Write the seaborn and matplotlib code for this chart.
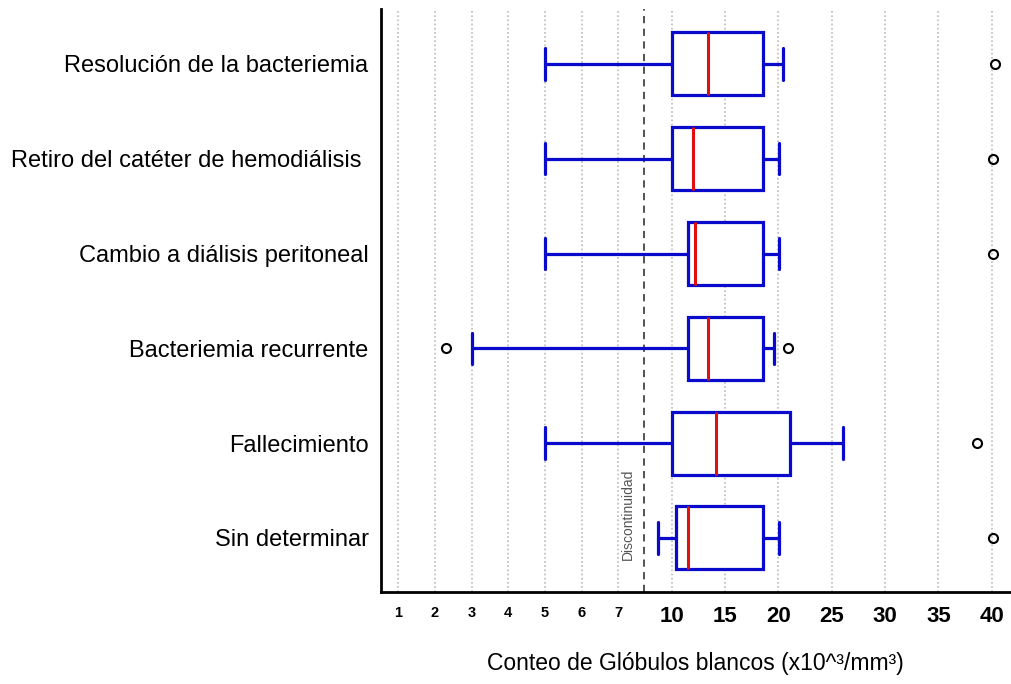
import numpy as np
import pandas as pd
import matplotlib
matplotlib.use("Agg")
import matplotlib.pyplot as plt
import seaborn as sns

categories = ["Resolución de la bacteriemia", "Retiro del catéter de hemodiálisis ",
              "Cambio a diálisis peritoneal", "Bacteriemia recurrente",
              "Fallecimiento", "Sin determinar"]
whisker_low = [5.0, 5.0, 5.0, 3.0, 5.0, 8.7]
q1 = [10.0, 10.0, 11.5, 11.5, 10.0, 10.4]
median = [13.4, 12.0, 12.2, 13.4, 14.2, 11.5]
q3 = [18.6, 18.6, 18.6, 18.6, 21.1, 18.6]
whisker_high = [20.4, 20.1, 20.1, 19.6, 26.1, 20.1]
outlier_low = [None, None, None, 2.3, None, None]
outlier_high = [40.3, 40.1, 40.1, 20.9, 38.6, 40.1]
tick_values = [1, 2, 3, 4, 5, 6, 7, 10, 15, 20, 25, 30, 35, 40]
tick_labels = ["1", "2", "3", "4", "5", "6", "7", "10", "15", "20", "25", "30", "35", "40"]

# Build 9-point samples whose quartiles / 12.5-87.5 percentiles reproduce the stats
rows = []
for i, c in enumerate(categories):
    lo_o = outlier_low[i] if outlier_low[i] is not None else whisker_low[i]
    hi_o = outlier_high[i] if outlier_high[i] is not None else whisker_high[i]
    vals = [lo_o, whisker_low[i], q1[i], q1[i], median[i], q3[i], q3[i], whisker_high[i], hi_o]
    for v in vals:
        rows.append({"cat": c, "val": v})
df = pd.DataFrame(rows)

# Broken (piecewise-linear) axis
LEFT_STEP = 36.7   # per unit for 1..7
RIGHT_STEP = 10.68 # per unit for 10..40
B = (671.7 - 398.3 - 10 * RIGHT_STEP + LEFT_STEP) / (LEFT_STEP - RIGHT_STEP)
POS_B = (B - 1) * LEFT_STEP

def forward(x):
    x = np.asarray(x, dtype=float)
    return np.where(x <= B, (x - 1) * LEFT_STEP, POS_B + (x - B) * RIGHT_STEP)

def inverse(p):
    p = np.asarray(p, dtype=float)
    return np.where(p <= POS_B, p / LEFT_STEP + 1, B + (p - POS_B) / RIGHT_STEP)

sns.set_style("white")
plt.rcParams["font.family"] = ["Liberation Sans", "DejaVu Sans"]
plt.rcParams["text.color"] = "black"
plt.rcParams["xtick.color"] = "black"
plt.rcParams["ytick.color"] = "black"
plt.rcParams["axes.labelcolor"] = "black"

fig = plt.figure(figsize=(10.11, 6.84), dpi=100)
ax = fig.add_axes([0.3769, 0.1345, 0.622, 0.8525])
ax.set_xscale("function", functions=(forward, inverse))

blue = "#0A0ACC"
sns.boxplot(data=df, x="val", y="cat", order=categories, orient="h", ax=ax,
            whis=(12.5, 87.5), width=0.665, color="white", linecolor=blue,
            linewidth=2.3, fill=True,
            medianprops={"color": "#E01010", "linewidth": 2.2},
            flierprops={"marker": "o", "markersize": 6.5, "markerfacecolor": "none",
                        "markeredgecolor": "black", "markeredgewidth": 1.5},
            capprops={"color": blue})

ax.set_xlim(0.53, 41.7)
ax.set_ylim(5.57, -0.58)

ax.set_xticks(tick_values)
ax.set_xticklabels(tick_labels)
ax.xaxis.set_minor_locator(matplotlib.ticker.NullLocator())
for t, v in zip(ax.get_xticklabels(), tick_values):
    t.set_fontweight("bold")
    t.set_fontsize(10.5 if v < 10 else 16)
    t.set_color("black")
ax.tick_params(axis="x", direction="in", length=4, width=1.5, color="black", pad=10)
ax.tick_params(axis="y", length=0, pad=9, labelsize=17, labelcolor="black")
ax.grid(axis="x", color="#BBBBBB", linestyle=(0, (1, 1.5)), linewidth=1.2)
ax.set_axisbelow(True)

for s in ["top", "right"]:
    ax.spines[s].set_visible(False)
for s in ["left", "bottom"]:
    ax.spines[s].set_color("black")
    ax.spines[s].set_linewidth(2)

ax.axvline(7.69, color="#444444", linestyle=(0, (4, 3)), linewidth=1.3, zorder=1)
ax.text(7.26, 4.75, "Discontinuidad", rotation=90, ha="center", va="center",
        fontsize=10, color="#555555")

ax.set_ylabel("")
ax.set_xlabel("Conteo de Glóbulos blancos (x10^³/mm³)", fontsize=16.5, labelpad=18,
              color="black")

fig.savefig("out.png", dpi=100)
